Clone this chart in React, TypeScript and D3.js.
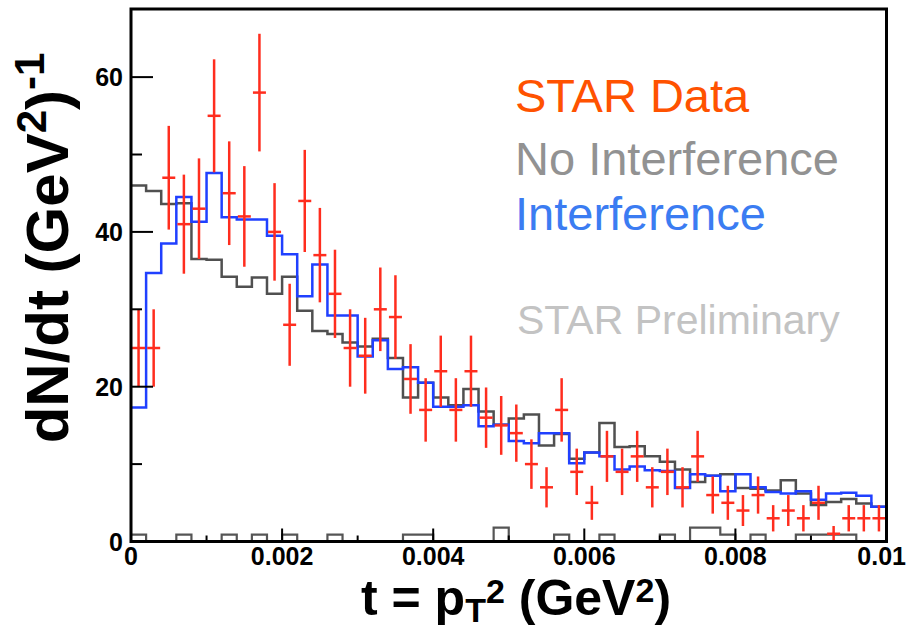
import React from "react";
import * as d3 from "d3";

// ---- data ----
const binWidth = 0.0002; // 50 bins on [0, 0.01]
const xTickValues = [0, 0.002, 0.004, 0.006, 0.008, 0.01];
const xTickLabels = ["0", "0.002", "0.004", "0.006", "0.008", "0.01"];
const yTickValues = [0, 20, 40, 60];
const yTickLabels = ["0", "20", "40", "60"];

const starData = [
  25, 25, 47, 41, 43, 55, 45, 42, 58, 40,
  28, 44, 37, 32, 25, 24, 30, 29, 21, 17,
  22, 17, 22, 16, 15, 14, 10, 7, 17, 9,
  5, 11, 9, 11, 7, 9, 7, 11, 6, 5,
  4, 6, 3, 4, 3, 5, 1, 3, 3, 3,
];
const starErr = [
  5, 5, 6.7, 6.4, 6.5, 7.3, 6.7, 6.5, 7.6, 6.3,
  5.3, 6.6, 6.1, 5.7, 5, 4.9, 5.4, 5.4, 4.5, 4.1,
  4.6, 4.1, 4.6, 3.9, 3.8, 3.7, 3.2, 2.6, 4.1, 3,
  2.2, 3.3, 3, 3.3, 2.6, 3, 2.6, 3.3, 2.4, 2.2,
  2, 2.4, 1.7, 2, 1.7, 2.2, 1, 1.7, 1.7, 1.7,
];
const interference = [
  17.3, 34.7, 38.5, 44.5, 41.3, 47.6, 41.9, 41.6, 41.6, 39.5,
  37.1, 31.7, 35.8, 29.2, 29.2, 23.9, 26, 22.3, 22.5, 20.5,
  17.4, 17.4, 17.6, 14.9, 15.1, 13.0, 12.7, 14.0, 14.0, 10.1,
  11.5, 11.0, 9.3, 9.7, 9.2, 9.1, 6.9, 8.7, 8.5, 6.5,
  8.7, 7.0, 6.4, 6.2, 6.5, 5.4, 6.2, 6.3, 5.9, 4.5,
];
const noInterference = [
  46.0, 45.3, 43.6, 43.7, 36.5, 36.4, 34.2, 32.9, 34.1, 32.0,
  34.2, 29.8, 27.2, 26.8, 25.7, 25.2, 26.2, 23.7, 18.6, 20.5,
  18.6, 17.6, 19.7, 16.8, 15.1, 15.9, 16.4, 12.4, 13.9, 10.7,
  11.5, 15.3, 12.2, 12.3, 11.0, 10.3, 9.3, 7.7, 8.5, 8.7,
  6.9, 6.8, 6.6, 7.9, 6.2, 4.7, 5.1, 5.5, 4.9, 4.5,
];
const lowHist = [
  0.9, 0, 0, 0.9, 0, 0, 0.9, 0, 0.9, 0,
  0.9, 0, 0, 0.9, 0, 0, 0, 0, 0.9, 0.9,
  0, 0, 0, 0, 1.8, 0, 0, 0, 0.9, 0,
  0, 0.9, 0, 0, 0, 0.9, 0, 1.8, 1.8, 0.9,
  0, 0.9, 0, 0, 0.9, 0.9, 0.9, 0.9, 0, 0,
];

const FONT = "'Liberation Sans', Arial, Helvetica, sans-serif";

export default function App() {
  const W = 909;
  const H = 629;
  const x = d3.scaleLinear().domain([0, 0.01]).range([131, 886.5]);
  const y = d3.scaleLinear().domain([0, 68.8]).range([541.5, 9]);

  const stepPath = (vals: number[]) => {
    let p = "";
    vals.forEach((v, i) => {
      const x0 = x(i * binWidth);
      const x1 = x((i + 1) * binWidth);
      const yy = y(v);
      p += (i === 0 ? `M${x0},${yy}` : `L${x0},${yy}`) + `L${x1},${yy}`;
    });
    return p;
  };

  const minorX = d3.range(0, 11).map((i) => i * 0.001).filter((_, i) => i % 2 === 1);
  const minorY = [10, 30, 50];

  const [x0, x1] = x.range();
  const [y0, y1] = y.range();
  const lastIdx = xTickValues.length - 1;

  return (
    <svg
      width={W}
      height={H}
      style={{ position: "absolute", left: 0, top: 0, background: "#fff" }}
      fontFamily={FONT}
    >
      <rect x={0} y={0} width={W} height={H} fill="#fff" />

      {/* low histogram */}
      <path d={stepPath(lowHist)} fill="none" stroke="#555" strokeWidth={2.2} />
      {/* no interference */}
      <path d={stepPath(noInterference)} fill="none" stroke="#505050" strokeWidth={2.5} />
      {/* interference */}
      <path d={stepPath(interference)} fill="none" stroke="#2040ff" strokeWidth={2.5} />

      {/* STAR data */}
      {starData.map((v, i) => {
        const c = (i + 0.5) * binWidth;
        const cx = x(c);
        return (
          <g key={i} stroke="#ff2d1e" strokeWidth={2.5}>
            <line x1={cx} x2={cx} y1={y(Math.max(0, v - starErr[i]))} y2={y(v + starErr[i])} />
            <line x1={x(c - binWidth * 0.43)} x2={x(c + binWidth * 0.43)} y1={y(v)} y2={y(v)} />
          </g>
        );
      })}

      {/* ticks */}
      {yTickValues.map((t) => (
        <line key={"yt" + t} x1={x0} x2={x0 + 22} y1={y(t)} y2={y(t)} stroke="#000" strokeWidth={2} />
      ))}
      {minorY.map((t) => (
        <line key={"ym" + t} x1={x0} x2={x0 + 11} y1={y(t)} y2={y(t)} stroke="#000" strokeWidth={2} />
      ))}
      {xTickValues.map((t) => (
        <line key={"xt" + t} x1={x(t)} x2={x(t)} y1={y0} y2={y0 - 13} stroke="#000" strokeWidth={2} />
      ))}
      {minorX.map((t) => (
        <line key={"xm" + t} x1={x(t)} x2={x(t)} y1={y0} y2={y0 - 6} stroke="#000" strokeWidth={2} />
      ))}

      {/* frame */}
      <rect x={x0} y={y1} width={x1 - x0} height={y0 - y1} fill="none" stroke="#000" strokeWidth={3} />

      {/* tick labels */}
      {yTickValues.map((t, i) => (
        <text key={"yl" + t} x={x0 - 8} y={y(t)} dy="0.36em" textAnchor="end" fontSize={25} fontWeight="bold">
          {yTickLabels[i]}
        </text>
      ))}
      {xTickValues.map((t, i) => (
        <text
          key={"xl" + t}
          x={i === lastIdx ? W - 3 : x(t)}
          y={565}
          textAnchor={i === lastIdx ? "end" : "middle"}
          fontSize={25}
          fontWeight="bold"
        >
          {xTickLabels[i]}
        </text>
      ))}

      {/* axis titles */}
      <text x={516} y={615} textAnchor="middle" fontSize={50} fontWeight="bold">
        {"t = p"}
        <tspan fontSize={34} dy={7}>T</tspan>
        <tspan fontSize={34} dy={-19}>2</tspan>
        <tspan fontSize={50} dy={12}>{" (GeV"}</tspan>
        <tspan fontSize={34} dy={-13}>2</tspan>
        <tspan fontSize={50} dy={13}>)</tspan>
      </text>
      <text transform="translate(68,248) rotate(-90)" textAnchor="middle" fontSize={60} fontWeight="bold">
        {"dN/dt (GeV"}
        <tspan fontSize={42} dy={-22}>2</tspan>
        <tspan fontSize={60} dy={22}>)</tspan>
        <tspan fontSize={42} dy={-24}>-1</tspan>
      </text>

      {/* legend texts */}
      <text x={515} y={112} fontSize={47} fill="#ff5200">STAR Data</text>
      <text x={515} y={175} fontSize={47} fill="#929292">No Interference</text>
      <text x={515} y={230} fontSize={47} fill="#3b7cf2">Interference</text>
      <text x={517} y={334} fontSize={41} fill="#c3c3c3">STAR Preliminary</text>
    </svg>
  );
}
